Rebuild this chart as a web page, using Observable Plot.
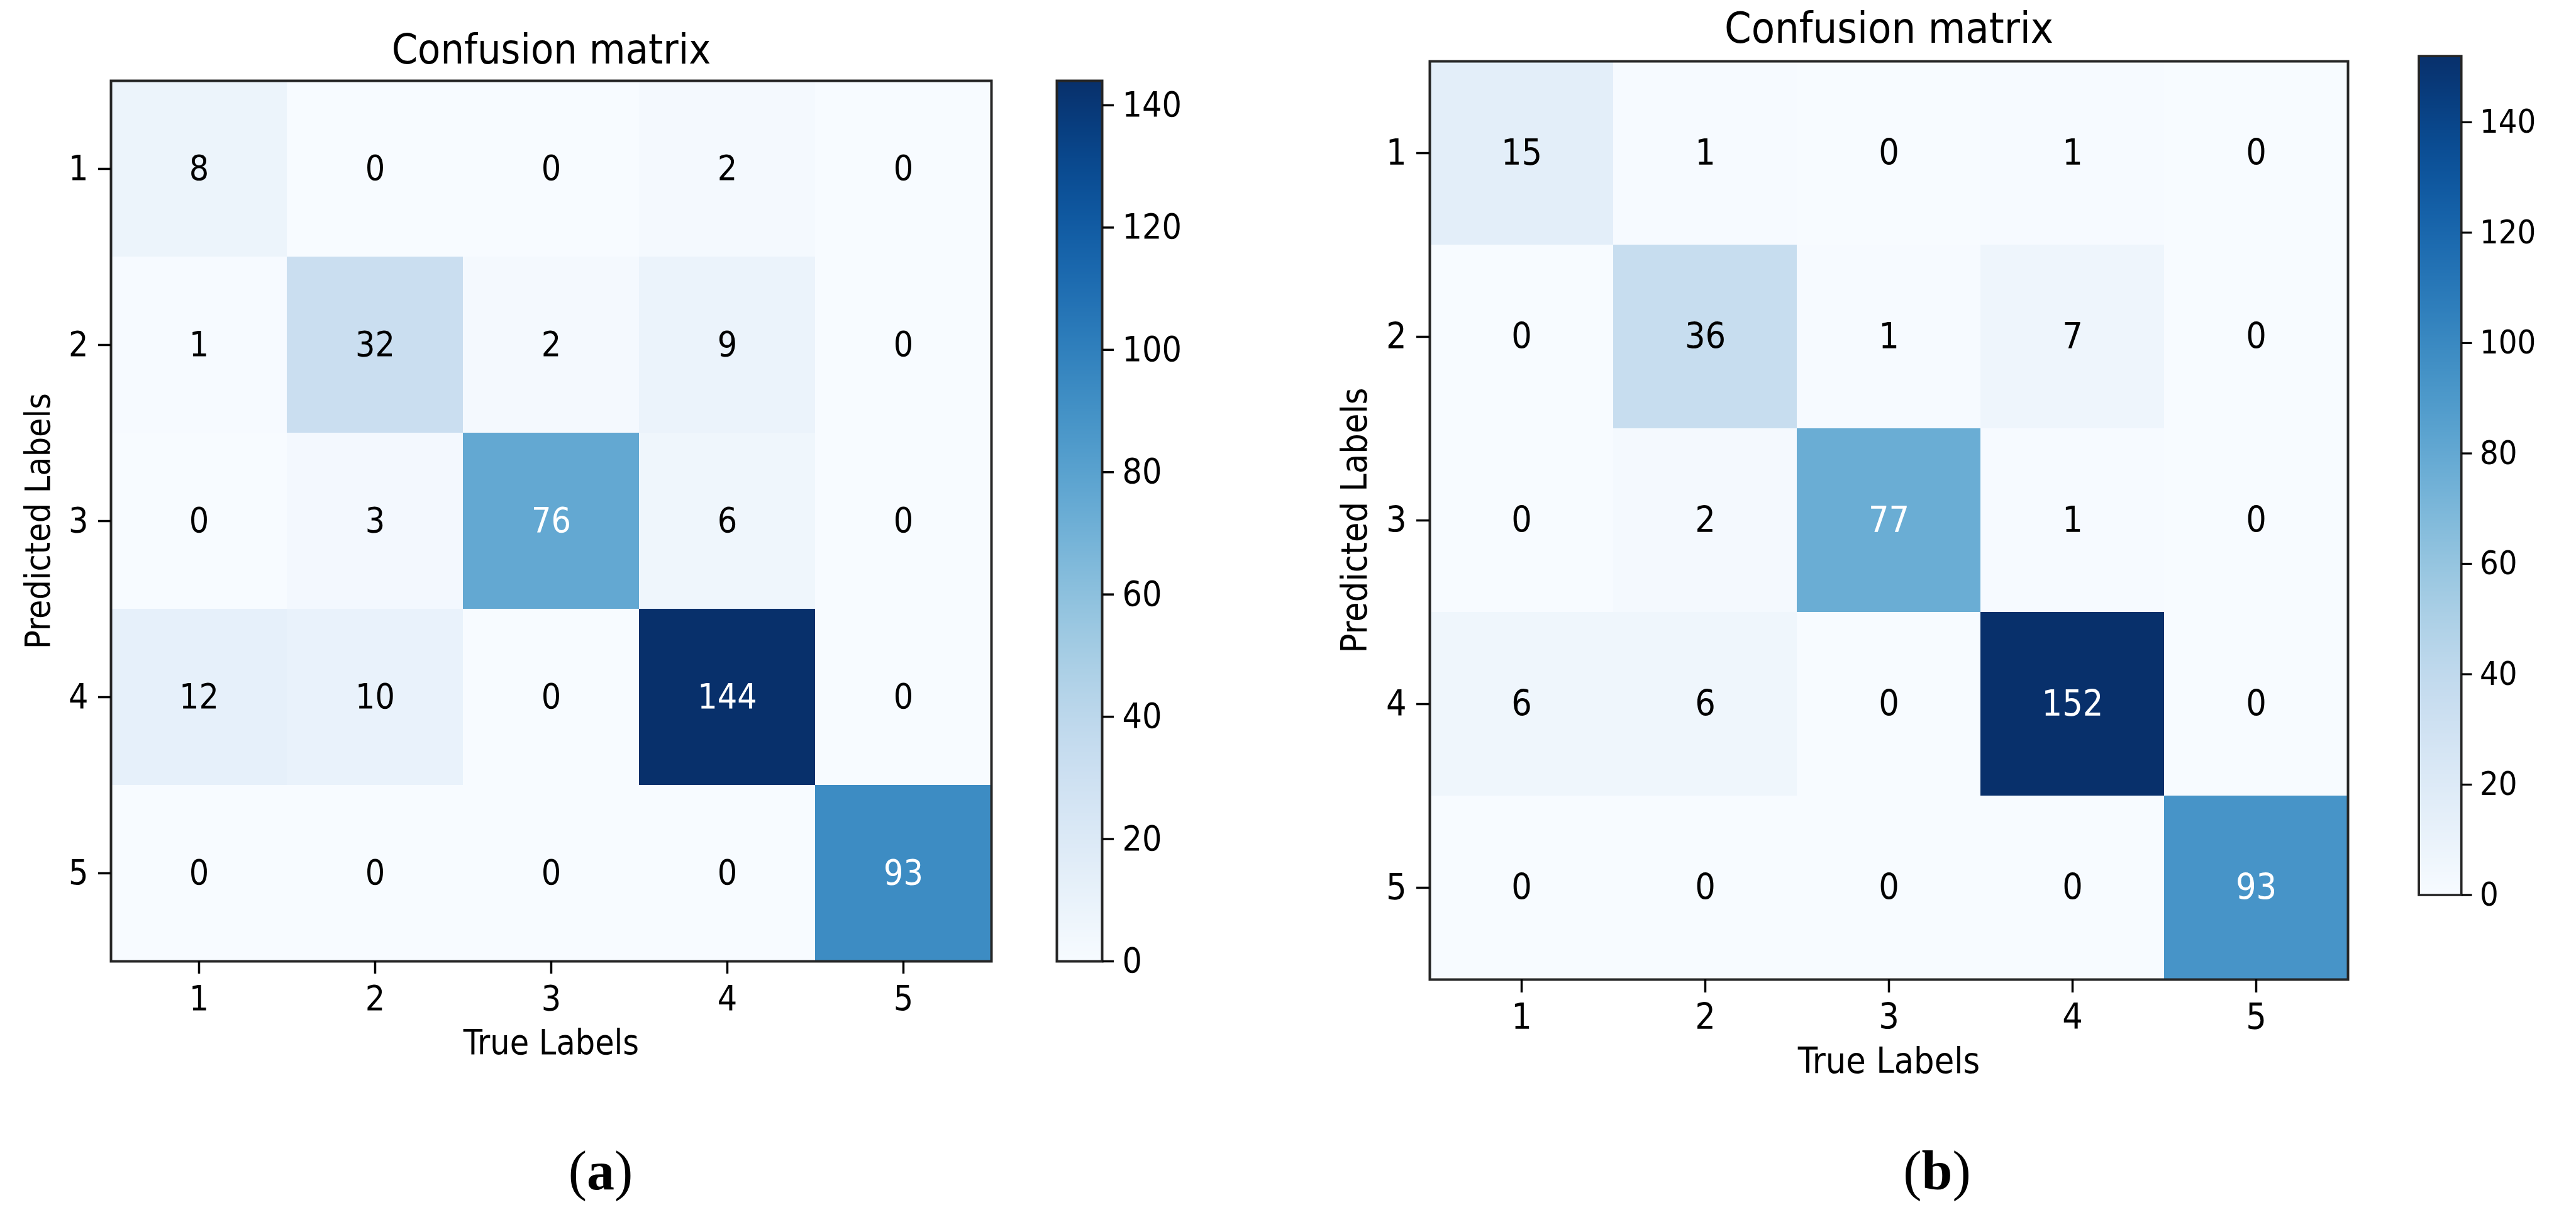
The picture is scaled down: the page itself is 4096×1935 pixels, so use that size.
<!DOCTYPE html>
<html><head><meta charset="utf-8">
<script src="https://cdn.jsdelivr.net/npm/d3@7"></script>
<script src="https://cdn.jsdelivr.net/npm/@observablehq/plot@0.6"></script>
<style>
body{margin:0;background:#fff;}
#root{position:relative;width:4096px;height:1935px;overflow:hidden;background:#fff;}
.pos{position:absolute;top:0;}
.cap{position:absolute;width:400px;text-align:center;font-family:"Liberation Serif","Times New Roman",serif;font-size:88px;line-height:88px;color:#000;}
</style></head><body><div id="root"></div>
<script>
// ---- data ----
const labels = ["1", "2", "3", "4", "5"];
// rows = predicted label, columns = true label
const matrixA = [
  [8, 0, 0, 2, 0],
  [1, 32, 2, 9, 0],
  [0, 3, 76, 6, 0],
  [12, 10, 0, 144, 0],
  [0, 0, 0, 0, 93]
];
const matrixB = [
  [15, 1, 0, 1, 0],
  [0, 36, 1, 7, 0],
  [0, 2, 77, 1, 0],
  [6, 6, 0, 152, 0],
  [0, 0, 0, 0, 93]
];
const colorbarTicks = [0, 20, 40, 60, 80, 100, 120, 140];
const titleText = "Confusion matrix";
const xLabel = "True Labels";
const yLabel = "Predicted Labels";
const captions = ["a", "b"];

const FONT = "'DejaVu Sans Condensed', 'DejaVu Sans', sans-serif";

function tidy(m) {
  const out = [];
  m.forEach((row, i) => row.forEach((v, j) => out.push({pred: labels[i], actual: labels[j], value: v})));
  return out;
}

function heatmap(matrix, L) {
  const data = tidy(matrix);
  const max = d3.max(data, d => d.value);
  const thresh = max / 2;
  return Plot.plot({
    width: L.left + L.size + 20,
    height: 1935,
    marginLeft: L.left, marginTop: L.top, marginRight: 20, marginBottom: 1935 - L.top - L.size,
    style: {fontFamily: FONT, fontStretch: "condensed", fontSize: L.font + "px", color: "#000", background: "transparent"},
    x: {domain: labels, padding: 0},
    y: {domain: labels, padding: 0},
    color: {type: "linear", scheme: "blues", domain: [0, max]},
    marks: [
      Plot.cell(data, {x: "actual", y: "pred", fill: "value", inset: 0}),
      Plot.text(data, {x: "actual", y: "pred", text: d => String(d.value), filter: d => d.value <= thresh, fill: "black", fontSize: L.font}),
      Plot.text(data, {x: "actual", y: "pred", text: d => String(d.value), filter: d => d.value > thresh, fill: "white", fontSize: L.font}),
      Plot.frame({stroke: "#262626", strokeWidth: 4}),
      Plot.axisX({anchor: "bottom", label: xLabel, labelAnchor: "center", labelArrow: "none", labelOffset: L.xLabelOffset,
        tickSize: L.tick, tickPadding: L.xPad, strokeWidth: 3.5, fontSize: L.font}),
      Plot.axisY({anchor: "left", label: yLabel, labelAnchor: "center", labelArrow: "none", labelOffset: L.yLabelOffset,
        tickSize: L.tick, tickPadding: L.yPad, strokeWidth: 3.5, fontSize: L.font}),
      Plot.text([titleText], {frameAnchor: "top", dy: -L.titleGap, lineAnchor: "bottom", fontSize: L.titleFont, text: d => d})
    ]
  });
}

function colorbar(matrix, L) {
  const max = d3.max(matrix.flat());
  const step = max / 700;
  const stops = d3.range(0, max, step);
  return Plot.plot({
    width: 4 + L.cbw + 200,
    height: 1935,
    marginLeft: 4, marginRight: 200, marginTop: L.top, marginBottom: 1935 - L.top - L.size,
    style: {fontFamily: FONT, fontStretch: "condensed", fontSize: L.font + "px", color: "#000", background: "transparent"},
    y: {domain: [0, max]},
    color: {type: "linear", scheme: "blues", domain: [0, max]},
    marks: [
      Plot.rect(stops, {y1: d => d, y2: d => Math.min(max, d + step * 1.6), fill: d => d + step / 2, shapeRendering: "crispEdges"}),
      Plot.frame({stroke: "#262626", strokeWidth: 4}),
      Plot.axisY({anchor: "right", ticks: colorbarTicks, tickFormat: d => String(d), tickSize: 18, tickPadding: L.cbPad,
        label: null, strokeWidth: 3.5, fontSize: L.font})
    ]
  });
}

const root = document.getElementById("root");
function place(node, left) {
  const div = document.createElement("div");
  div.className = "pos";
  div.style.left = left + "px";
  div.appendChild(node);
  root.appendChild(div);
}

const LA = {left: 176, top: 128, size: 1400, font: 55, titleFont: 66, titleGap: 28, tick: 20, xPad: 18, yPad: 16,
  xLabelOffset: 147, yLabelOffset: 137, cbw: 72, cbPad: 14};
const LB = {left: 200, top: 97, size: 1460, font: 57, titleFont: 68, titleGap: 30, tick: 21, xPad: 17, yPad: 16,
  xLabelOffset: 148, yLabelOffset: 141, cbw: 74, cbPad: 14};

place(heatmap(matrixA, LA), 0);
place(colorbar(matrixA, LA), 1680 - 4);
place(heatmap(matrixB, LB), 2273 - LB.left);
place(colorbar(matrixB, LB), 3846 - 4);

[[captions[0], 955], [captions[1], 3080]].forEach(([c, cx]) => {
  const d = document.createElement("div");
  d.className = "cap";
  d.style.left = (cx - 200) + "px";
  d.style.top = "1818px";
  d.innerHTML = "(<b>" + c + "</b>)";
  root.appendChild(d);
});
</script></body></html>
